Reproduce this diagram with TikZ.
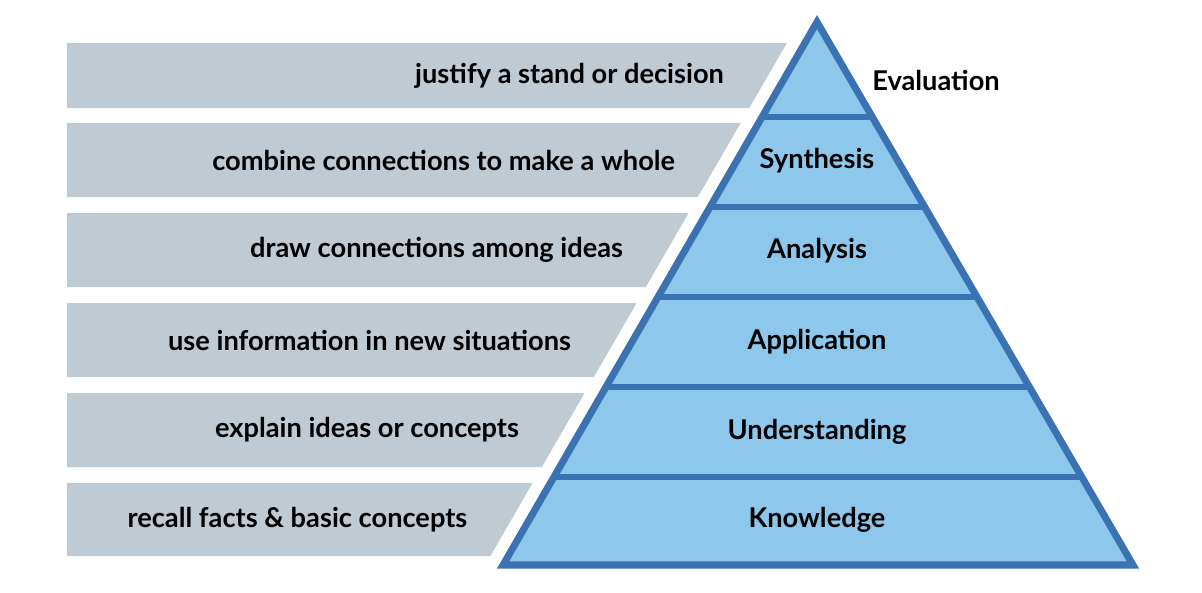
\documentclass[tikz,border=0pt]{standalone}
\usepackage{fontspec}
\setmainfont{Lato}
\begin{document}
\begin{tikzpicture}[x=0.02cm,y=-0.02cm,
  bar/.style={fill=barGray,draw=none},
  lbl/.style={anchor=east,font=\fontsize{15.5}{18}\selectfont\bfseries,text=black},
  lvl/.style={font=\fontsize{15.5}{18}\selectfont\bfseries,text=black}]
\definecolor{barGray}{HTML}{BFCAD2}
\definecolor{pyrFill}{HTML}{8DC8EC}
\definecolor{pyrLine}{HTML}{3A72B2}
\useasboundingbox (0,0) rectangle (1202,592);
% left-side slope function: x(y)=817-0.578*(y-22)
\foreach \t/\b/\txt/\n in {43/108/{justify a stand or decision}/a,123/197/{combine connections to make a whole}/b,213/287/{draw connections among ideas}/c,303/377/{use information in new situations}/d,393/467/{explain ideas or concepts}/e,483/556/{recall facts \& basic concepts}/f}{
  \pgfmathsetmacro\xt{817-0.578*(\t-22)-18}
  \pgfmathsetmacro\xb{817-0.578*(\b-22)-18}
  \pgfmathsetmacro\xm{817-0.578*((\t+\b)/2-22)-18-38}
  \fill[bar] (67,\t) -- (\xt,\t) -- (\xb,\b) -- (67,\b) -- cycle;
  \node[lbl] (t\n) at (\xm,{(\t+\b)/2}) {\txt};
}
\fill[pyrFill] (817,22) -- (1133,565) -- (503,565) -- cycle;
\foreach \y in {117,207,297,387,477}{
  \pgfmathsetmacro\xl{817-0.578*(\y-22)}
  \pgfmathsetmacro\xr{817+0.578*(\y-22)}
  \draw[pyrLine,line width=3pt] (\xl,\y) -- (\xr,\y);
}
\draw[pyrLine,line width=4pt,line join=miter] (817,22) -- (1133,565) -- (503,565) -- cycle;
\node[lvl] (ev) at (936,80) {Evaluation};
\node[lvl] (sy) at (817,161) {Synthesis};
\node[lvl] (an) at (817,251) {Analysis};
\node[lvl] (ap) at (817,342) {Application};
\node[lvl] (un) at (817,432) {Understanding};
\node[lvl] (kn) at (817,520) {Knowledge};
\end{tikzpicture}
\end{document}
